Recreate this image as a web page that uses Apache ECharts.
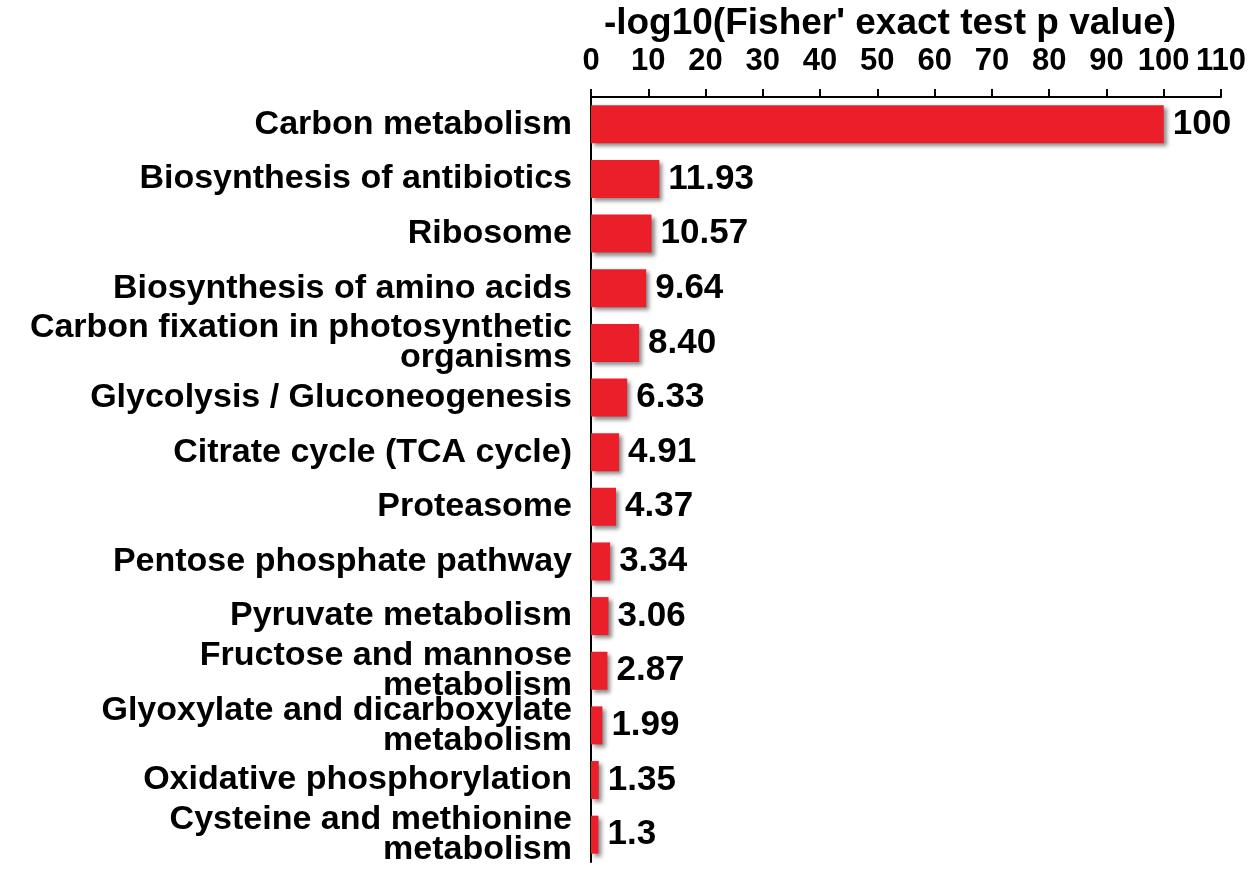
<!DOCTYPE html>
<html>
<head>
<meta charset="utf-8">
<script src="https://cdn.jsdelivr.net/npm/echarts@6/dist/echarts.min.js"></script>
<style>
  html, body { margin: 0; padding: 0; background: #fff; }
  #chart { width: 1250px; height: 870px; }
</style>
</head>
<body>
<div id="chart"></div>
<script>
const categories = [
  'Carbon metabolism',
  'Biosynthesis of antibiotics',
  'Ribosome',
  'Biosynthesis of amino acids',
  'Carbon fixation in photosynthetic\norganisms',
  'Glycolysis / Gluconeogenesis',
  'Citrate cycle (TCA cycle)',
  'Proteasome',
  'Pentose phosphate pathway',
  'Pyruvate metabolism',
  'Fructose and mannose\nmetabolism',
  'Glyoxylate and dicarboxylate\nmetabolism',
  'Oxidative phosphorylation',
  'Cysteine and methionine\nmetabolism'
];
const values = [100, 11.93, 10.57, 9.64, 8.40, 6.33, 4.91, 4.37, 3.34, 3.06, 2.87, 1.99, 1.35, 1.3];
const valueLabels = ['100', '11.93', '10.57', '9.64', '8.40', '6.33', '4.91', '4.37', '3.34', '3.06', '2.87', '1.99', '1.35', '1.3'];

const chart = echarts.init(document.getElementById('chart'));
const font = 'Liberation Sans, Arial, sans-serif';

const option = {
  animation: false,
  title: {
    text: "-log10(Fisher' exact test p value)",
    left: 885,
    textAlign: 'center',
    top: 0,
    textStyle: { fontFamily: font, fontWeight: 'bold', fontSize: 37, color: '#000' }
  },
  grid: { left: 591, top: 97, right: 29, bottom: 8 },
  xAxis: {
    type: 'value',
    position: 'top',
    min: 0,
    max: 110,
    interval: 10,
    splitLine: { show: false },
    axisLine: { show: true, onZero: false, lineStyle: { color: '#000', width: 2 } },
    axisTick: { show: true, length: 8, lineStyle: { color: '#000', width: 2 } },
    axisLabel: { fontFamily: font, fontWeight: 'bold', fontSize: 31, color: '#000', margin: 20 }
  },
  yAxis: {
    type: 'category',
    inverse: true,
    data: categories,
    axisLine: { lineStyle: { color: '#000', width: 2 } },
    axisTick: { length: 8, lineStyle: { color: '#000', width: 2 } },
    axisLabel: {
      fontFamily: font, fontWeight: 'bold', fontSize: 34, color: '#000',
      lineHeight: 30, margin: 19, align: 'right'
    }
  },
  series: [{
    type: 'bar',
    data: values,
    barWidth: 38,
    itemStyle: {
      color: '#EA1F29',
      shadowColor: 'rgba(0,0,0,0.45)',
      shadowBlur: 4,
      shadowOffsetX: 3,
      shadowOffsetY: 3
    },
    label: {
      show: true,
      position: 'right',
      distance: 9,
      fontFamily: font, fontWeight: 'bold', fontSize: 35, color: '#000',
      formatter: p => valueLabels[p.dataIndex]
    }
  }]
};

chart.setOption(option);
window.addEventListener('resize', function () {
  chart.resize();
});
</script>
</body>
</html>
